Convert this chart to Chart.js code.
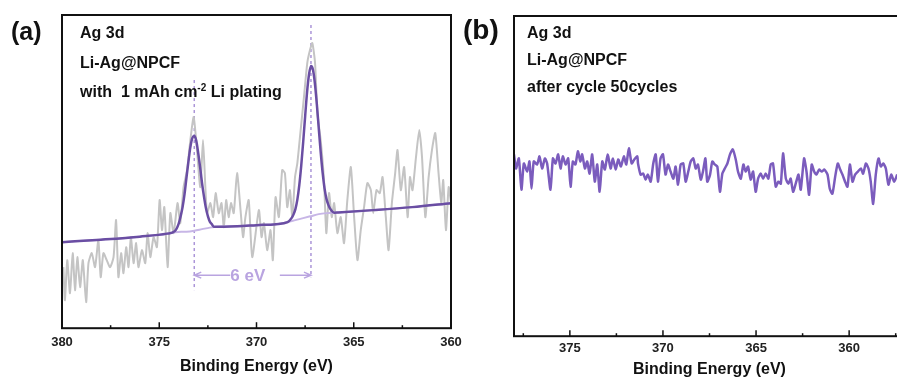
<!DOCTYPE html>
<html>
<head>
<meta charset="utf-8">
<script src="https://cdn.jsdelivr.net/npm/chart.js@4.4.1/dist/chart.umd.min.js"></script>
<style>
    body { margin: 0; width: 897px; height: 381px; overflow: hidden; background: #fff; position: relative;
           font-family: "Liberation Sans", Arial, sans-serif; color: #111; }
    canvas { position: absolute; top: 0; }
    #chartA { left: 0; }
    #chartB { left: 460px; }
    .txt { position: absolute; font-weight: bold; font-size: 16px; line-height: 16px; white-space: nowrap; }
    .tag { position: absolute; font-weight: bold; font-size: 25px; line-height: 25px; }
    sup { font-size: 10px; vertical-align: 6px; line-height: 0; }
</style>
</head>
<body>
<canvas id="chartA" width="470" height="381"></canvas>
<canvas id="chartB" width="460" height="381"></canvas>

<div class="tag" style="left:11px; top:19px;">(a)</div>
<div class="txt" style="left:80px; top:25px;">Ag 3d</div>
<div class="txt" style="left:80px; top:55px;">Li-Ag@NPCF</div>
<div class="txt" style="left:80px; top:84px;">with&nbsp; 1 mAh cm<sup>-2</sup> Li plating</div>

<div class="tag" style="left:463px; top:16px; font-size:28px; line-height:28px;">(b)</div>
<div class="txt" style="left:527px; top:25px;">Ag 3d</div>
<div class="txt" style="left:527px; top:52px;">Li-Ag@NPCF</div>
<div class="txt" style="left:527px; top:79px;">after cycle 50cycles</div>

<script>
// (a) raw Ag 3d spectrum, binding energy (eV) / intensity (a.u.)
const rawEnergyA = [
    379.93, 379.85, 379.73, 379.59, 379.45, 379.33, 379.21, 379.07, 378.93, 378.76,
    378.64, 378.47, 378.30, 378.13, 378.01, 377.87, 377.70, 377.53, 377.35, 377.22,
    377.10, 376.96, 376.84, 376.70, 376.58, 376.46, 376.32, 376.19, 376.07, 375.89,
    375.72, 375.60, 375.46, 375.29, 375.12, 374.98, 374.86, 374.74, 374.57, 374.43,
    374.26, 374.06, 373.92, 373.75, 373.57, 373.40, 373.23, 373.06, 372.89, 372.75,
    372.63, 372.54, 372.37, 372.23, 372.10, 371.94, 371.80, 371.68, 371.56, 371.43,
    371.31, 371.17, 371.00, 370.82, 370.69, 370.57, 370.40, 370.22,
    369.88, 369.74, 369.62, 369.45, 369.28, 369.16, 369.02, 368.85, 368.68, 368.54,
    368.42, 368.28, 368.16, 368.02, 367.90, 367.73, 367.56, 367.39, 367.25, 367.13,
    366.99, 366.87, 366.70, 366.53, 366.41, 366.27, 366.13, 366.01, 365.84, 365.67,
    365.50, 365.33, 365.15, 364.98, 364.81, 364.64, 364.47, 364.30, 364.12, 364.00,
    363.83, 363.66, 363.52, 363.35, 363.21, 363.04, 362.87, 362.75, 362.58, 362.41,
    362.23, 362.11, 361.98, 361.80, 361.63, 361.49, 361.32, 361.15, 360.98, 360.81,
    360.64, 360.50, 360.40, 360.26, 360.12, 360.00
];
const rawIntensityA = [
    61, 28, 68, 35, 75, 38, 71, 41, 68, 26,
    65, 75, 61, 88, 51, 75, 68, 61, 71, 108,
    51, 75, 55, 81, 61, 91, 65, 85, 61, 78,
    65, 95, 71, 91, 81, 128, 98, 121, 61, 115,
    95, 125, 105, 141, 158, 188, 211, 178, 141, 188,
    141, 115, 125, 111, 135, 115, 125, 101, 128, 111,
    125, 115, 155, 118, 91, 111, 128, 71,
    118, 91, 105, 78, 98, 68, 131, 111, 158, 155,
    121, 138, 111, 151, 165, 198, 231, 265, 278, 285,
    265, 215, 188, 148, 95, 135, 111, 125, 95, 111,
    85, 128, 161, 111, 68, 98, 121, 145, 138, 115,
    138, 135, 151, 111, 78, 125, 155, 178, 138, 161,
    111, 151, 138, 171, 198, 171, 111, 151, 178, 195,
    155, 125, 148, 98, 141, 125
];

// (a) fitted envelope
const fitEnergyA = [
    380, 378, 376, 374.6, 374.2, 374.0, 373.9, 373.8, 373.7, 373.6,
    373.5, 373.4, 373.3, 373.2, 373.1, 373.0, 372.9, 372.8, 372.7, 372.6,
    372.5, 372.4, 372.3, 372.2, 371, 370, 369, 368.4, 368.2, 368.1,
    368.0, 367.9, 367.8, 367.7, 367.6, 367.5, 367.4, 367.3, 367.2, 367.1,
    367.0, 366.9, 366.8, 366.7, 366.6, 366.5, 366.4, 366.3, 366.2, 366.0,
    365.8, 364, 362, 360
];
const fitIntensityA = [
    86, 88.5, 91.5, 94.5, 97, 104.5, 112, 121, 134, 150.5,
    166.5, 181, 190, 192, 187.5, 175.5, 161, 145, 131.5, 120,
    112, 106.5, 104, 101.5, 102, 103, 104, 106, 110, 113.5,
    119, 128.5, 143, 162.5, 186, 211.5, 236, 253.5, 262, 258.5,
    245, 224.5, 200, 176, 155.5, 139.5, 129, 123, 119, 115.5,
    115.7, 118, 121, 125
];

// (a) Shirley background
const bgEnergyA = [380, 378, 376, 374.6, 374.2, 373.6, 373.2, 372.8, 372.4, 372.0, 371, 370, 369,
    368.4, 368.0, 367.6, 367.2, 366.8, 366.4, 366.0, 365.8, 364, 362, 360];
const bgIntensityA = [86, 88.5, 91.5, 94.5, 96, 96.5, 97.5, 99, 100.5, 101.5, 102, 103, 104,
    106, 108, 110, 112, 114, 115, 115.5, 115.7, 118, 121, 125];

// (a) peak markers (eV) and their dashed-line extents (a.u.)
const peakCenters = [373.2, 367.2];
const dashTop = [248, 303];
const dashBottom = [38, 51];
const arrowLevel = 53;
const arrowLeftEnd = 371.35;
const arrowRightStart = 368.8;
const arrowLabelAt = 370.45;

// (b) spectrum after 50 cycles
const energyB = [
    378.00, 377.89, 377.74, 377.60, 377.47, 377.29, 377.17, 377.06, 376.94, 376.76,
    376.63, 376.49, 376.34, 376.22, 376.04, 375.91, 375.77, 375.63, 375.50, 375.38,
    375.23, 375.09, 374.96, 374.84, 374.70, 374.57, 374.44, 374.34, 374.19, 374.07,
    373.94, 373.80, 373.66, 373.53, 373.40, 373.26, 373.12, 372.97, 372.81, 372.69,
    372.54, 372.40, 372.26, 372.10, 371.97, 371.83, 371.68, 371.54, 371.38,
    371.34, 371.20, 371.06, 370.93, 370.81, 370.66, 370.52, 370.39, 370.27, 370.13,
    370.00, 369.86, 369.73, 369.59, 369.44, 369.32, 369.19, 369.05, 368.91, 368.78,
    368.64, 368.51, 368.37, 368.24, 368.12, 367.97, 367.85, 367.72, 367.62, 367.47,
    367.35, 367.22, 367.08, 366.94, 366.81, 366.68, 366.54, 366.40, 366.25, 366.09,
    365.97, 365.82, 365.68, 365.56, 365.43, 365.29, 365.16, 365.02, 364.89, 364.75,
    364.62, 364.48, 364.34, 364.21, 364.09, 363.94, 363.80, 363.67, 363.55, 363.40,
    363.26, 363.14, 363.01, 362.87, 362.72, 362.60, 362.42, 362.29, 362.15, 362.01,
    361.88, 361.76, 361.61, 361.47, 361.33, 361.16, 361.04, 360.90, 360.75, 360.61,
    360.48, 360.36, 360.22, 360.09, 359.96, 359.82, 359.68, 359.53, 359.37, 359.25,
    359.10, 358.96, 358.84, 358.71, 358.57, 358.42, 358.30, 358.17, 358.03, 357.89,
    357.74, 357.58, 357.42
];
const intensityB = [
    180, 166, 176, 145, 171, 163, 173, 146, 173, 170,
    178, 166, 176, 171, 145, 176, 171, 180, 166, 178,
    170, 176, 148, 173, 170, 183, 173, 180, 166, 173,
    161, 180, 153, 170, 143, 173, 165, 180, 166, 176,
    165, 175, 168, 178, 170, 186, 171, 175, 178,
    171, 160, 161, 155, 160, 153, 171, 180, 153, 176,
    180, 160, 170, 163, 156, 168, 150, 170, 171, 153,
    163, 173, 176, 166, 170, 155, 163, 176, 153, 160,
    173, 170, 168, 143, 161, 166, 171, 180, 185, 175,
    163, 156, 170, 163, 168, 155, 163, 143, 156, 161,
    156, 161, 156, 170, 171, 148, 153, 151, 181, 156,
    151, 156, 143, 151, 160, 145, 176, 163, 140, 170,
    163, 160, 165, 163, 165, 160, 146, 141, 158, 171,
    165, 160, 153, 148, 170, 153, 160, 163, 166, 161,
    171, 166, 153, 131, 160, 176, 168, 171, 166, 150,
    160, 153, 160
];

const FONT = '"Liberation Sans", Arial, sans-serif';
const dashColor = '#ab95d8';
const arrowColor = '#b9a4e0';

Chart.defaults.font.family = FONT;
Chart.defaults.devicePixelRatio = 1;

function toPoints(xs, ys) {
    return xs.map((x, i) => ({ x: x, y: ys[i] }));
}

// box round the plot area plus inward major / minor ticks on the energy axis
const frameTicks = {
    id: 'frameTicks',
    afterDraw(chart) {
        const { ctx, chartArea: a, scales: { x } } = chart;
        ctx.save();
        ctx.strokeStyle = '#111';
        ctx.lineWidth = 2;
        ctx.strokeRect(a.left, a.top, a.right - a.left, a.bottom - a.top);
        ctx.lineWidth = 1.5;
        for (let v = Math.ceil(x.min / 2.5) * 2.5; v <= x.max; v += 2.5) {
            const px = x.getPixelForValue(v);
            const len = v % 5 === 0 ? 6 : 3;
            ctx.beginPath();
            ctx.moveTo(px, a.bottom);
            ctx.lineTo(px, a.bottom - len);
            ctx.stroke();
        }
        ctx.restore();
    }
};

const peakMarks = {
    id: 'peakMarks',
    beforeDatasetsDraw(chart) {
        const { ctx, scales: { x, y } } = chart;
        ctx.save();
        ctx.strokeStyle = dashColor;
        ctx.lineWidth = 1.5;
        ctx.setLineDash([3, 3]);
        peakCenters.forEach((e, i) => {
            const px = x.getPixelForValue(e);
            ctx.beginPath();
            ctx.moveTo(px, y.getPixelForValue(dashTop[i]));
            ctx.lineTo(px, y.getPixelForValue(dashBottom[i]));
            ctx.stroke();
        });
        ctx.setLineDash([]);

        // 6 eV splitting arrow
        const ay = y.getPixelForValue(arrowLevel);
        const x1 = x.getPixelForValue(peakCenters[0]);
        const x2 = x.getPixelForValue(arrowLeftEnd);
        const x3 = x.getPixelForValue(arrowRightStart);
        const x4 = x.getPixelForValue(peakCenters[1]);
        ctx.strokeStyle = arrowColor;
        ctx.lineWidth = 1.5;
        ctx.beginPath();
        ctx.moveTo(x1, ay); ctx.lineTo(x2, ay);
        ctx.moveTo(x3, ay); ctx.lineTo(x4, ay);
        ctx.moveTo(x1 + 7, ay - 3); ctx.lineTo(x1, ay); ctx.lineTo(x1 + 7, ay + 3);
        ctx.moveTo(x4 - 7, ay - 3); ctx.lineTo(x4, ay); ctx.lineTo(x4 - 7, ay + 3);
        ctx.stroke();
        ctx.fillStyle = arrowColor;
        ctx.font = 'bold 17px ' + FONT;
        ctx.textAlign = 'center';
        ctx.textBaseline = 'middle';
        ctx.fillText('6 eV', x.getPixelForValue(arrowLabelAt), ay + 1);
        ctx.restore();
    }
};

function energyAxis(min, max, tickPad, titlePad) {
    return {
        type: 'linear',
        reverse: true,
        min: min,
        max: max,
        afterBuildTicks(scale) {
            scale.ticks = scale.ticks.filter(t => t.value % 5 === 0);
        },
        ticks: { stepSize: 5, color: '#222', padding: tickPad, maxRotation: 0,
                 font: { size: 13, weight: 'bold' } },
        grid: { display: false, drawTicks: false },
        border: { display: false },
        title: { display: true, text: 'Binding Energy (eV)', color: '#111',
                 font: { size: 16, weight: 'bold' }, padding: { top: titlePad, bottom: 0 } }
    };
}

function lineSet(points, color, width, smooth) {
    return {
        data: points,
        borderColor: color,
        borderWidth: width,
        pointRadius: 0,
        fill: false,
        tension: smooth ? 0 : 0.2,
        cubicInterpolationMode: smooth ? 'monotone' : 'default'
    };
}

new Chart(document.getElementById('chartA'), {
    type: 'line',
    data: {
        datasets: [
            lineSet(toPoints(fitEnergyA, fitIntensityA), '#6a4ea3', 2.5, true),
            lineSet(toPoints(bgEnergyA, bgIntensityA), '#c7b6e6', 2, true),
            lineSet(toPoints(rawEnergyA, rawIntensityA), '#c4c4c4', 2, false)
        ]
    },
    options: {
        responsive: false,
        animation: false,
        layout: { padding: { left: 62, right: 19, top: 15, bottom: 5 } },
        plugins: { legend: { display: false }, tooltip: { enabled: false } },
        scales: {
            x: energyAxis(360, 380, 6, 1),
            y: { display: false, min: 0, max: 313 }
        }
    },
    plugins: [peakMarks, frameTicks]
});

new Chart(document.getElementById('chartB'), {
    type: 'line',
    data: {
        datasets: [
            lineSet(toPoints(energyB, intensityB), '#7b5cbd', 2.5, false)
        ]
    },
    options: {
        responsive: false,
        animation: false,
        layout: { padding: { left: 54, right: 15, top: 16, bottom: 2 } },
        plugins: { legend: { display: false }, tooltip: { enabled: false } },
        scales: {
            x: energyAxis(357, 378, 4, 0),
            y: { display: false, min: 0, max: 317 }
        }
    },
    plugins: [frameTicks]
});
</script>
</body>
</html>
